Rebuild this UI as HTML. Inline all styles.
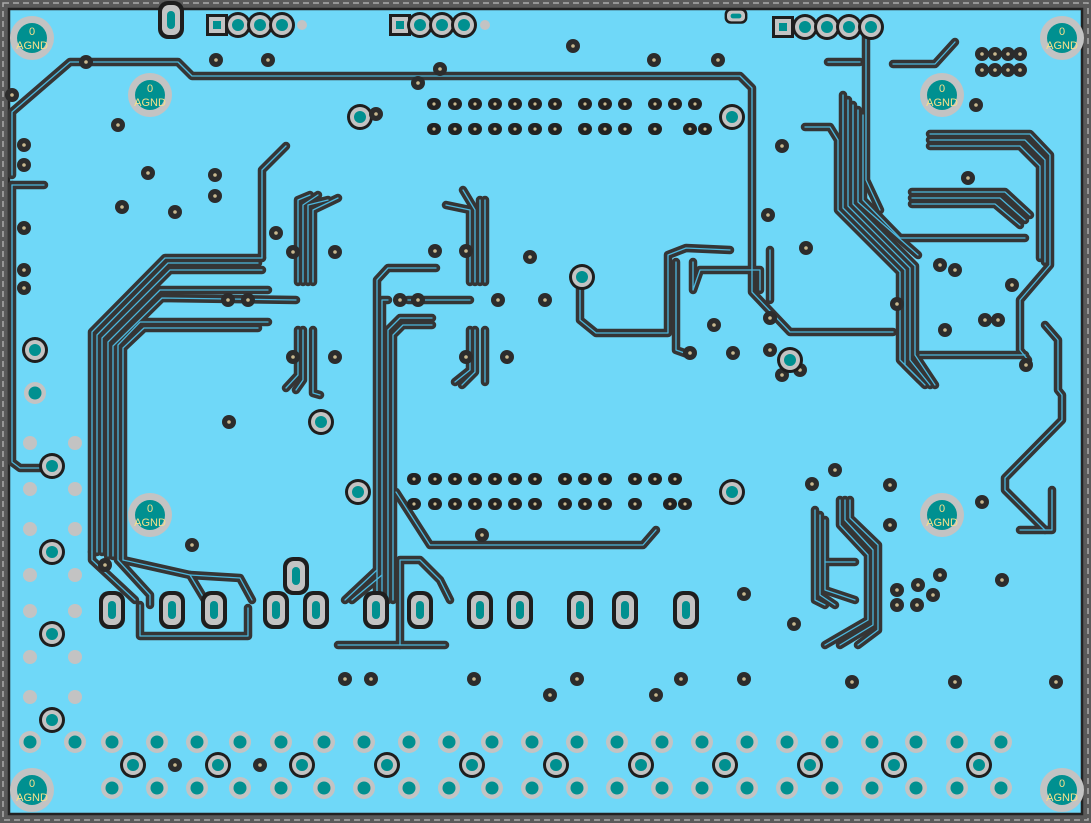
<!DOCTYPE html>
<html><head><meta charset="utf-8"><style>
html,body{margin:0;padding:0;background:#6fd8f8;}
svg{display:block}
.ag{font-family:"Liberation Sans",sans-serif;font-size:11px;fill:#f5e08c;text-anchor:middle}
</style></head><body>
<svg width="1091" height="823" viewBox="0 0 1091 823" xmlns="http://www.w3.org/2000/svg">
<defs>
<g id="tr" fill="none" stroke-linejoin="round" stroke-linecap="round">
<path d="M12 175 L12 112 L70 62 L178 62 L192 76 L740 76 L752 88 L752 292 L790 332 L893 332"/>
<path d="M12 185 L12 462 L20 468 L50 468"/>
<path d="M12 185 L44 185"/>
<path d="M92 552 L92 332 L165 258 L262 258"/>
<path d="M97 552 L97 335 L168 263 L258 263"/>
<path d="M102 552 L102 338 L170 270 L262 270"/>
<path d="M108 556 L108 342 L160 290 L268 290"/>
<path d="M113 556 L113 346 L162 298 L296 300"/>
<path d="M118 560 L118 345 L140 322 L268 322"/>
<path d="M123 560 L123 348 L144 328 L258 328"/>
<path d="M92 552 L92 560 L135 600"/>
<path d="M118 560 L150 595 L150 605"/>
<path d="M123 560 L190 575 L205 600"/>
<path d="M140 605 L140 636 L248 636 L248 608"/>
<path d="M190 575 L240 578 L252 600"/>
<path d="M262 258 L262 170 L286 146"/>
<path d="M298 282 L298 200 L310 195"/>
<path d="M303 282 L303 205 L318 195"/>
<path d="M308 282 L308 205 L328 200"/>
<path d="M313 282 L313 210 L338 198"/>
<path d="M298 330 L298 375 L286 388"/>
<path d="M303 330 L303 380 L296 390"/>
<path d="M313 330 L313 393 L320 395"/>
<path d="M377 598 L377 280 L388 268 L436 268"/>
<path d="M382 598 L382 300 L388 300"/>
<path d="M388 600 L388 330 L400 318 L432 318"/>
<path d="M393 600 L393 335 L403 325 L432 325"/>
<path d="M345 600 L377 570"/>
<path d="M352 600 L382 575"/>
<path d="M400 645 L400 560 L420 560 L440 580 L450 600"/>
<path d="M338 645 L445 645"/>
<path d="M408 300 L470 300"/>
<path d="M396 492 L430 545 L643 545 L656 530"/>
<path d="M446 205 L470 210 L470 282"/>
<path d="M463 190 L475 210 L475 282"/>
<path d="M480 200 L480 282"/>
<path d="M485 200 L485 282"/>
<path d="M470 330 L470 370 L455 382"/>
<path d="M475 330 L475 372 L462 385"/>
<path d="M485 330 L485 382"/>
<path d="M580 278 L580 320 L596 333 L668 333 L668 255 L686 248 L730 250"/>
<path d="M676 262 L676 350 L690 355"/>
<path d="M693 262 L693 290 L700 270 L760 270 L760 290"/>
<path d="M770 250 L770 300"/>
<path d="M828 62 L860 62"/>
<path d="M866 28 L866 180 L880 210"/>
<path d="M893 64 L935 64 L955 42"/>
<path d="M805 127 L830 127 L838 140 L838 210 L900 272 L900 360 L920 380"/>
<path d="M843 95 L843 208 L905 270 L905 365 L925 385"/>
<path d="M848 100 L848 206 L910 268 L910 360 L930 385"/>
<path d="M853 105 L853 204 L915 266 L915 355 L935 385"/>
<path d="M858 110 L858 202 L918 255"/>
<path d="M863 115 L863 200 L900 238 L1025 238"/>
<path d="M930 134 L1030 134 L1050 155 L1050 265 L1020 300 L1020 350 L1028 360"/>
<path d="M930 140 L1025 140 L1045 160 L1045 262"/>
<path d="M930 146 L1020 146 L1040 166 L1040 258"/>
<path d="M912 192 L1005 192 L1030 215"/>
<path d="M912 198 L1000 198 L1025 220"/>
<path d="M912 204 L995 204 L1020 225"/>
<path d="M920 355 L1025 355"/>
<path d="M1045 325 L1058 340 L1058 390 L1062 395 L1062 420 L1005 478 L1005 490 L1045 530"/>
<path d="M1052 490 L1052 530 L1020 530"/>
<path d="M815 510 L815 600 L825 605"/>
<path d="M820 515 L820 595 L835 605"/>
<path d="M825 520 L825 590 L855 600"/>
<path d="M840 500 L840 525 L868 555 L868 620 L825 645"/>
<path d="M845 500 L845 520 L873 550 L873 625 L840 645"/>
<path d="M850 500 L850 518 L878 545 L878 630 L858 645"/>
<path d="M825 562 L855 562"/>
</g>
<g id="via"><circle r="7" fill="#2c2c2c"/><circle r="1.8" fill="#c9b88e"/></g>
<g id="gv"><circle r="11" fill="#c3c3c3"/><circle r="6.5" fill="#009090"/></g>
<g id="bp"><circle r="13" fill="#1e1e1e"/><circle r="10" fill="#c3c3c3"/><circle r="6" fill="#009090"/></g>
<g id="ov"><rect x="-13" y="-19" width="26" height="38" rx="10" fill="#1e1e1e"/><rect x="-9" y="-15" width="18" height="30" rx="7" fill="#c3c3c3"/><rect x="-4" y="-9" width="8" height="18" rx="4" fill="#009090"/></g>
<g id="ag"><circle r="22" fill="#c3c3c3"/><circle r="15" fill="#009090"/><text class="ag" y="-3">0</text><text class="ag" y="11">AGND</text></g>
<g id="sm"><rect x="-7" y="-6" width="14" height="12" rx="6" fill="#222"/><circle r="1.6" fill="#c9b88e"/></g>
</defs>
<rect width="1091" height="823" fill="#6fd8f8"/>
<rect x="4" y="4" width="1083" height="815" fill="none" stroke="#5a5a5a" stroke-width="8"/>
<rect x="3" y="3" width="1085" height="817" fill="none" stroke="#aaa" stroke-width="1.5" stroke-dasharray="6 4"/>
<rect x="9" y="9" width="1073" height="805" fill="none" stroke="#222" stroke-width="2.5"/>

<use href="#tr" stroke="#353535" stroke-width="8.5"/>
<use href="#tr" stroke="#4cb6dc" stroke-width="1.3"/>

<use href="#ag" x="32" y="38"/><use href="#ag" x="150" y="95"/><use href="#ag" x="1062" y="38"/><use href="#ag" x="942" y="95"/>
<use href="#ag" x="150" y="515"/><use href="#ag" x="942" y="515"/><use href="#ag" x="32" y="790"/><use href="#ag" x="1062" y="790"/>

<rect x="206" y="14" width="22" height="22" fill="#1e1e1e"/><rect x="209" y="17" width="16" height="16" fill="#c3c3c3"/><rect x="213" y="21" width="8" height="8" fill="#009090"/>
<use href="#bp" x="238" y="25"/><use href="#bp" x="260" y="25"/><use href="#bp" x="282" y="25"/>
<rect x="389" y="14" width="22" height="22" fill="#1e1e1e"/><rect x="392" y="17" width="16" height="16" fill="#c3c3c3"/><rect x="396" y="21" width="8" height="8" fill="#009090"/>
<use href="#bp" x="420" y="25"/><use href="#bp" x="442" y="25"/><use href="#bp" x="464" y="25"/>
<rect x="772" y="16" width="22" height="22" fill="#1e1e1e"/><rect x="775" y="19" width="16" height="16" fill="#c3c3c3"/><rect x="779" y="23" width="8" height="8" fill="#009090"/>
<use href="#bp" x="805" y="27"/><use href="#bp" x="827" y="27"/><use href="#bp" x="849" y="27"/><use href="#bp" x="871" y="27"/>
<use href="#ov" x="171" y="20"/>
<g transform="translate(736 16) rotate(90) scale(.6)"><use href="#ov"/></g>
<circle cx="302" cy="25" r="5" fill="#c3c3c3"/><circle cx="485" cy="25" r="5" fill="#c3c3c3"/>

<use href="#ov" x="112" y="610"/><use href="#ov" x="172" y="610"/><use href="#ov" x="214" y="610"/><use href="#ov" x="276" y="610"/><use href="#ov" x="316" y="610"/><use href="#ov" x="376" y="610"/><use href="#ov" x="420" y="610"/><use href="#ov" x="480" y="610"/><use href="#ov" x="520" y="610"/><use href="#ov" x="580" y="610"/><use href="#ov" x="625" y="610"/><use href="#ov" x="686" y="610"/><use href="#ov" x="296" y="576"/>

<use href="#bp" x="35" y="350"/><use href="#gv" x="35" y="393"/><use href="#bp" x="52" y="466"/><use href="#bp" x="52" y="552"/><use href="#bp" x="52" y="634"/><use href="#bp" x="52" y="720"/>
<g fill="#c3c3c3"><circle cx="30" cy="443" r="7"/><circle cx="75" cy="443" r="7"/><circle cx="30" cy="489" r="7"/><circle cx="75" cy="489" r="7"/><circle cx="30" cy="529" r="7"/><circle cx="75" cy="529" r="7"/><circle cx="30" cy="575" r="7"/><circle cx="75" cy="575" r="7"/><circle cx="30" cy="611" r="7"/><circle cx="75" cy="611" r="7"/><circle cx="30" cy="657" r="7"/><circle cx="75" cy="657" r="7"/><circle cx="30" cy="697" r="7"/><circle cx="75" cy="697" r="7"/></g>

<use href="#gv" x="30" y="742"/><use href="#gv" x="75" y="742"/><use href="#gv" x="112" y="742"/><use href="#gv" x="157" y="742"/><use href="#gv" x="197" y="742"/><use href="#gv" x="240" y="742"/><use href="#gv" x="281" y="742"/><use href="#gv" x="324" y="742"/><use href="#gv" x="364" y="742"/><use href="#gv" x="409" y="742"/><use href="#gv" x="449" y="742"/><use href="#gv" x="492" y="742"/><use href="#gv" x="532" y="742"/><use href="#gv" x="577" y="742"/><use href="#gv" x="617" y="742"/><use href="#gv" x="662" y="742"/><use href="#gv" x="702" y="742"/><use href="#gv" x="747" y="742"/><use href="#gv" x="787" y="742"/><use href="#gv" x="832" y="742"/><use href="#gv" x="872" y="742"/><use href="#gv" x="916" y="742"/><use href="#gv" x="957" y="742"/><use href="#gv" x="1001" y="742"/>
<use href="#gv" x="112" y="788"/><use href="#gv" x="157" y="788"/><use href="#gv" x="197" y="788"/><use href="#gv" x="240" y="788"/><use href="#gv" x="281" y="788"/><use href="#gv" x="324" y="788"/><use href="#gv" x="364" y="788"/><use href="#gv" x="409" y="788"/><use href="#gv" x="449" y="788"/><use href="#gv" x="492" y="788"/><use href="#gv" x="532" y="788"/><use href="#gv" x="577" y="788"/><use href="#gv" x="617" y="788"/><use href="#gv" x="662" y="788"/><use href="#gv" x="702" y="788"/><use href="#gv" x="747" y="788"/><use href="#gv" x="787" y="788"/><use href="#gv" x="832" y="788"/><use href="#gv" x="872" y="788"/><use href="#gv" x="916" y="788"/><use href="#gv" x="957" y="788"/><use href="#gv" x="1001" y="788"/>
<use href="#bp" x="133" y="765"/><use href="#bp" x="218" y="765"/><use href="#bp" x="302" y="765"/><use href="#bp" x="387" y="765"/><use href="#bp" x="472" y="765"/><use href="#bp" x="556" y="765"/><use href="#bp" x="641" y="765"/><use href="#bp" x="725" y="765"/><use href="#bp" x="810" y="765"/><use href="#bp" x="894" y="765"/><use href="#bp" x="979" y="765"/>

<g id="row1">
<use href="#sm" x="434" y="104"/><use href="#sm" x="455" y="104"/><use href="#sm" x="475" y="104"/><use href="#sm" x="495" y="104"/><use href="#sm" x="515" y="104"/><use href="#sm" x="535" y="104"/><use href="#sm" x="555" y="104"/><use href="#sm" x="585" y="104"/><use href="#sm" x="605" y="104"/><use href="#sm" x="625" y="104"/><use href="#sm" x="655" y="104"/><use href="#sm" x="675" y="104"/><use href="#sm" x="695" y="104"/>
<use href="#sm" x="434" y="129"/><use href="#sm" x="455" y="129"/><use href="#sm" x="475" y="129"/><use href="#sm" x="495" y="129"/><use href="#sm" x="515" y="129"/><use href="#sm" x="535" y="129"/><use href="#sm" x="555" y="129"/><use href="#sm" x="585" y="129"/><use href="#sm" x="605" y="129"/><use href="#sm" x="625" y="129"/><use href="#sm" x="655" y="129"/><use href="#sm" x="690" y="129"/><use href="#sm" x="705" y="129"/>
</g>
<g transform="translate(-20 375)"><use href="#row1"/></g>
<use href="#bp" x="360" y="117"/><use href="#bp" x="732" y="117"/><use href="#bp" x="358" y="492"/><use href="#bp" x="732" y="492"/>

<g>
<use href="#via" x="86" y="62"/><use href="#via" x="12" y="95"/><use href="#via" x="118" y="125"/><use href="#via" x="24" y="145"/><use href="#via" x="24" y="165"/><use href="#via" x="148" y="173"/><use href="#via" x="215" y="175"/><use href="#via" x="215" y="196"/><use href="#via" x="122" y="207"/><use href="#via" x="175" y="212"/><use href="#via" x="24" y="228"/><use href="#via" x="24" y="270"/><use href="#via" x="24" y="288"/><use href="#via" x="216" y="60"/><use href="#via" x="268" y="60"/><use href="#via" x="440" y="69"/><use href="#via" x="418" y="83"/><use href="#via" x="573" y="46"/><use href="#via" x="654" y="60"/><use href="#via" x="718" y="60"/><use href="#via" x="376" y="114"/>
<use href="#via" x="276" y="233"/><use href="#via" x="293" y="252"/><use href="#via" x="335" y="252"/><use href="#via" x="228" y="300"/><use href="#via" x="248" y="300"/><use href="#via" x="335" y="357"/><use href="#via" x="293" y="357"/><use href="#via" x="229" y="422"/>
<use href="#via" x="435" y="251"/><use href="#via" x="466" y="251"/><use href="#via" x="530" y="257"/><use href="#via" x="545" y="300"/><use href="#via" x="498" y="300"/><use href="#via" x="400" y="300"/><use href="#via" x="418" y="300"/><use href="#via" x="466" y="357"/><use href="#via" x="507" y="357"/><use href="#via" x="714" y="325"/><use href="#via" x="733" y="353"/><use href="#via" x="690" y="353"/><use href="#via" x="768" y="215"/><use href="#via" x="806" y="248"/><use href="#via" x="782" y="146"/><use href="#via" x="770" y="318"/><use href="#via" x="770" y="350"/><use href="#via" x="782" y="375"/><use href="#via" x="800" y="370"/>
<use href="#via" x="976" y="105"/><use href="#via" x="968" y="178"/><use href="#via" x="940" y="265"/><use href="#via" x="955" y="270"/><use href="#via" x="897" y="304"/><use href="#via" x="985" y="320"/><use href="#via" x="998" y="320"/><use href="#via" x="945" y="330"/><use href="#via" x="1012" y="285"/><use href="#via" x="1026" y="365"/>
<use href="#via" x="982" y="54"/><use href="#via" x="995" y="54"/><use href="#via" x="1008" y="54"/><use href="#via" x="1020" y="54"/><use href="#via" x="982" y="70"/><use href="#via" x="995" y="70"/><use href="#via" x="1008" y="70"/><use href="#via" x="1020" y="70"/>
<use href="#via" x="835" y="470"/><use href="#via" x="812" y="484"/><use href="#via" x="890" y="485"/><use href="#via" x="890" y="525"/><use href="#via" x="982" y="502"/><use href="#via" x="940" y="575"/><use href="#via" x="918" y="585"/><use href="#via" x="933" y="595"/><use href="#via" x="897" y="590"/><use href="#via" x="897" y="605"/><use href="#via" x="917" y="605"/><use href="#via" x="1002" y="580"/><use href="#via" x="794" y="624"/><use href="#via" x="744" y="594"/>
<use href="#via" x="105" y="565"/><use href="#via" x="192" y="545"/><use href="#via" x="482" y="535"/><use href="#via" x="345" y="679"/><use href="#via" x="371" y="679"/><use href="#via" x="474" y="679"/><use href="#via" x="577" y="679"/><use href="#via" x="681" y="679"/><use href="#via" x="744" y="679"/><use href="#via" x="852" y="682"/><use href="#via" x="955" y="682"/><use href="#via" x="1056" y="682"/><use href="#via" x="550" y="695"/><use href="#via" x="656" y="695"/><use href="#via" x="175" y="765"/><use href="#via" x="260" y="765"/>
</g>
<use href="#bp" x="790" y="360"/><use href="#bp" x="321" y="422"/><use href="#bp" x="582" y="277"/>
</svg>
</body></html>
